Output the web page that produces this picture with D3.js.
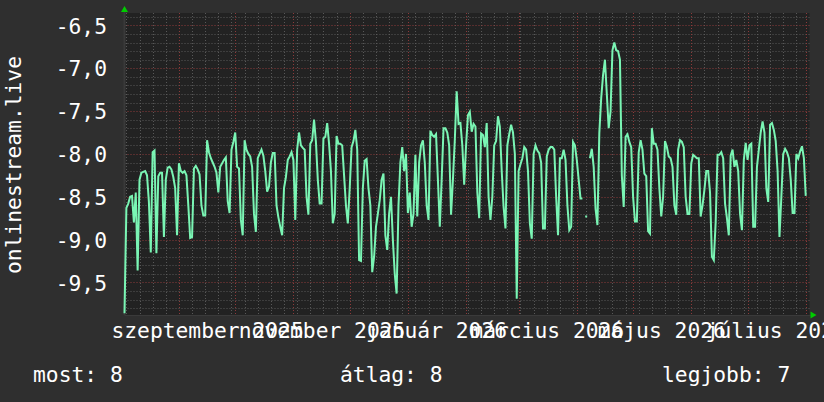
<!DOCTYPE html>
<html><head><meta charset="utf-8">
<script src="https://cdn.jsdelivr.net/npm/d3@7"></script>
<style>html,body{margin:0;padding:0;background:#2f2f2f;} svg{display:block;}</style>
</head><body>
<svg id="chart" width="824" height="402"></svg>
<script>
// ---- data ----
const startDate = "2025-08-03";
const endDate = "2026-08-03";
const dailyValues = [
-9.86,-8.63,-8.58,-8.50,-8.49,-8.80,-8.45,-9.36,-8.30,-8.22,-8.21,-8.20,-8.25,-8.56,-9.15,-7.98,-7.96,-9.16,-8.26,-8.22,
-8.22,-8.97,-8.30,-8.16,-8.15,-8.18,-8.27,-8.40,-8.95,-8.11,-8.20,-8.22,-8.20,-8.25,-8.60,-8.98,-8.97,-8.17,-8.14,-8.18,
-8.24,-8.60,-8.72,-8.72,-7.84,-7.98,-8.05,-8.10,-8.15,-8.22,-8.45,-8.15,-8.11,-8.07,-8.04,-8.55,-8.69,-7.95,-7.86,-7.75,
-8.15,-8.17,-8.77,-8.95,-7.84,-7.95,-8.00,-8.03,-8.15,-8.70,-8.91,-8.05,-8.00,-7.95,-8.02,-8.20,-8.44,-8.38,-8.10,-7.99,
-7.99,-8.60,-8.74,-8.85,-8.95,-8.40,-8.27,-8.07,-8.03,-7.98,-8.07,-8.77,-7.95,-7.75,-7.90,-7.93,-7.95,-8.50,-8.71,-7.88,
-7.84,-7.60,-7.86,-8.30,-8.58,-8.58,-7.82,-7.80,-7.64,-7.88,-8.20,-8.81,-8.70,-7.79,-7.88,-7.88,-7.90,-8.25,-8.60,-8.81,
-8.40,-7.92,-7.85,-7.72,-7.95,-9.24,-9.25,-8.40,-8.08,-8.06,-8.40,-8.60,-9.38,-9.20,-8.85,-8.70,-8.54,-8.30,-8.23,-8.95,
-9.12,-8.70,-8.50,-9.00,-9.40,-9.63,-8.60,-8.10,-7.92,-8.20,-8.00,-8.69,-8.45,-8.85,-8.70,-8.01,-8.73,-8.10,-7.90,-7.84,
-8.10,-8.60,-8.77,-7.73,-7.78,-7.80,-7.77,-8.30,-8.85,-8.30,-7.70,-7.70,-7.75,-7.90,-8.71,-8.30,-7.84,-7.27,-7.65,-7.64,
-7.90,-8.36,-7.90,-7.55,-7.51,-7.74,-7.65,-7.68,-8.45,-8.75,-7.76,-7.78,-7.92,-7.64,-8.50,-8.77,-8.50,-7.90,-7.85,-7.56,
-7.68,-8.20,-8.62,-8.87,-7.90,-7.77,-7.66,-7.75,-8.00,-9.69,-8.20,-8.12,-8.05,-7.92,-7.95,-8.20,-8.81,-8.99,-8.00,-7.90,
-7.96,-7.99,-8.10,-8.87,-8.87,-8.03,-7.95,-7.92,-7.92,-7.95,-8.50,-8.95,-8.05,-8.05,-7.95,-8.07,-8.60,-8.89,-8.85,-7.86,
-7.90,-8.07,-8.30,-8.52,-8.52,null,-8.73,null,-8.05,-7.94,-8.15,-8.64,-8.83,-7.76,-7.35,-7.08,-6.90,-7.30,-7.70,-7.50,
-6.79,-6.70,-6.79,-6.80,-6.90,-8.25,-8.62,-7.80,-7.77,-7.86,-7.92,-8.50,-8.79,-8.79,-7.98,-7.84,-7.95,-8.23,-8.26,-8.90,
-8.93,-7.70,-7.88,-7.88,-7.95,-8.40,-8.73,-8.50,-7.85,-7.92,-8.03,-8.05,-8.15,-8.60,-8.71,-7.95,-7.84,-7.86,-7.92,-8.50,
-8.70,-8.70,-8.11,-8.01,-8.03,-8.05,-8.05,-8.73,-8.60,-8.42,-8.20,-8.20,-8.45,-9.20,-9.24,-8.80,-8.01,-8.01,-7.98,-8.05,
-8.58,-8.75,-8.95,-8.02,-7.95,-8.15,-8.07,-8.20,-8.70,-8.89,-8.07,-7.87,-8.07,-7.90,-7.88,-8.85,-8.85,-8.15,-7.95,-7.75,
-7.62,-7.75,-8.40,-8.56,-7.66,-7.64,-7.72,-7.85,-8.20,-8.97,-8.50,-8.00,-7.94,-7.98,-8.05,-8.30,-8.69,-8.69,-8.00,-8.05,
-7.97,-7.91,-8.05,-8.49
];
const yTickValues = [-9.5, -9.0, -8.5, -8.0, -7.5, -7.0, -6.5];
const monthLabelDates = ["2025-09-01","2025-11-01","2026-01-01","2026-03-01","2026-05-01","2026-07-01"];
const monthLabels = ["szeptember 2025","november 2025","január 2026","március 2026","május 2026","július 2026"];
const yTitle = "onlinestream.live";
const legendTexts = ["most: 8", "átlag: 8", "legjobb: 7"];

// ---- layout ----
const W = 824, H = 402;
const L = 124.5, R = 809.5, T = 13, B = 315;
const FONT = "'DejaVu Sans Mono', monospace";
const FS = 21.3;

const parse = d3.utcParse("%Y-%m-%d");
const t0 = parse(startDate), t1 = parse(endDate);
const x = d3.scaleUtc().domain([t0, t1]).range([L, R]);
const y = d3.scaleLinear().domain([-9.88, -6.355]).range([B, T]);

const svg = d3.select("#chart");
svg.append("rect").attr("width", W).attr("height", H).attr("fill", "#2f2f2f");
svg.append("rect").attr("x", L).attr("y", T).attr("width", R - L).attr("height", B - T).attr("fill", "#222222");

const grid = svg.append("g");
const minorC = "#585858", majorC = "#8c3a3a";
// minor horizontal
const minorY = d3.range(-98, -63, 1).map(v => v / 10).filter(v => Math.abs(v * 2 - Math.round(v * 2)) > 1e-6);
grid.selectAll("line.hm").data(minorY).join("line")
  .attr("x1", L).attr("x2", R).attr("y1", d => Math.round(y(d)) + 0.5).attr("y2", d => Math.round(y(d)) + 0.5)
  .attr("stroke", minorC).attr("stroke-dasharray", "1,2");
// minor vertical (weekly)
const weeks = d3.utcMonday.range(t0, t1);
grid.selectAll("line.vm").data(weeks).join("line")
  .attr("x1", d => Math.round(x(d)) + 0.5).attr("x2", d => Math.round(x(d)) + 0.5).attr("y1", T).attr("y2", B)
  .attr("stroke", minorC).attr("stroke-dasharray", "1,2");
// major horizontal
const majorY = d3.range(-19, -12, 1).map(v => v / 2);
grid.selectAll("line.hM").data(majorY).join("line")
  .attr("x1", L).attr("x2", R).attr("y1", d => Math.round(y(d)) + 0.5).attr("y2", d => Math.round(y(d)) + 0.5)
  .attr("stroke", majorC).attr("stroke-dasharray", "1,2");
// major vertical (monthly)
const months = d3.utcMonth.range(t0, t1);
grid.selectAll("line.vM").data(months).join("line")
  .attr("x1", d => Math.round(x(d)) + 0.5).attr("x2", d => Math.round(x(d)) + 0.5).attr("y1", T).attr("y2", B)
  .attr("stroke", majorC).attr("stroke-dasharray", "1,2");

// axes
const loc = d3.formatLocale({decimal: ",", thousands: " ", grouping: [3], currency: ["", ""], minus: "-"});
const fmt = loc.format(".1f");
const yAxis = d3.axisLeft(y).tickValues(yTickValues).tickFormat(fmt).tickSize(0).tickPadding(17.5);
const gy = svg.append("g").attr("transform", `translate(${L},0)`).call(yAxis);
gy.select(".domain").remove();
gy.selectAll("text").attr("fill", "#ffffff").attr("font-family", FONT).attr("font-size", FS).attr("dy", "0.36em");

const labelDates = monthLabelDates.map(s => d3.utcDay.offset(parse(s), 15));
const xAxis = d3.axisBottom(x).tickValues(labelDates).tickFormat((d, i) => monthLabels[i]).tickSize(0).tickPadding(8);
const gx = svg.append("g").attr("transform", `translate(0,${B})`).call(xAxis);
gx.select(".domain").remove();
gx.selectAll("text").attr("fill", "#ffffff").attr("font-family", FONT).attr("font-size", FS);

// axis lines
svg.append("line").attr("x1", L).attr("x2", R + 2).attr("y1", B + 0.5).attr("y2", B + 0.5).attr("stroke", "#3a3a3a");
svg.append("line").attr("x1", L).attr("x2", L).attr("y1", T - 2).attr("y2", B).attr("stroke", "#3a3a3a").attr("stroke-width", 2);
// arrows
svg.append("path").attr("d", `M${L - 3.5},${T - 1} L${L + 3.5},${T - 1} L${L},${T - 7} Z`).attr("fill", "#00cc00");
svg.append("path").attr("d", `M${R + 1},${B - 3.5} L${R + 1},${B + 3.5} L${R + 7},${B} Z`).attr("fill", "#00cc00");

// series
const series = dailyValues.map((v, i) => ({t: d3.utcDay.offset(t0, i), v}));
const line = d3.line().defined(d => d.v != null).x(d => x(d.t)).y(d => y(d.v));
svg.append("path").datum(series).attr("d", line).attr("fill", "none")
  .attr("stroke", "#7af5b4").attr("stroke-width", 2).attr("stroke-linejoin", "miter");
const isolated = series.filter((d, i) => d.v != null && (i === 0 || series[i - 1].v == null) && (i === series.length - 1 || series[i + 1].v == null));
svg.selectAll("rect.iso").data(isolated).join("rect")
  .attr("x", d => x(d.t) - 1).attr("y", d => y(d.v) - 1).attr("width", 2).attr("height", 2).attr("fill", "#7af5b4");

// y title
svg.append("text").attr("transform", "translate(21,165) rotate(-90)").attr("text-anchor", "middle")
  .attr("fill", "#ffffff").attr("font-family", FONT).attr("font-size", FS).text(yTitle);

// legend
const legendX = [33, 340, 662];
svg.selectAll("text.leg").data(legendTexts).join("text")
  .attr("x", (d, i) => legendX[i]).attr("y", 382)
  .attr("fill", "#ffffff").attr("font-family", FONT).attr("font-size", FS).text(d => d);
</script>
</body></html>
